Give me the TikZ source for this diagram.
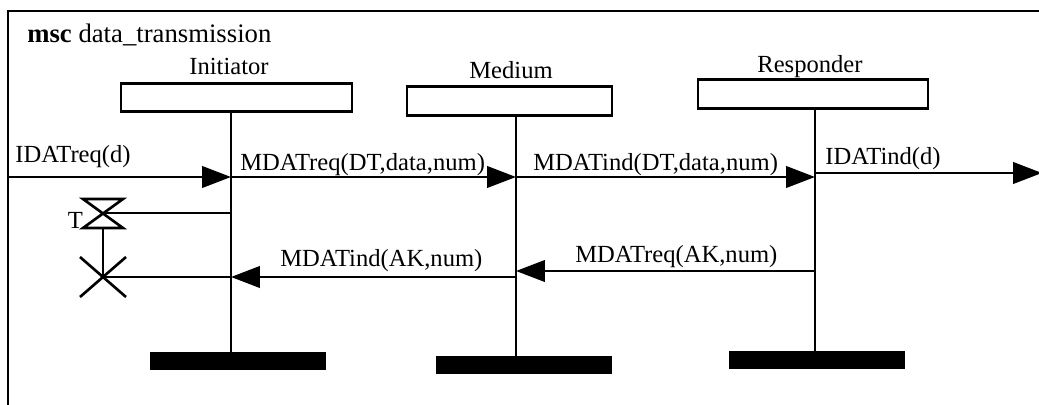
\documentclass[tikz,border=0pt]{standalone}
\usepackage{fontspec}
\setmainfont{Liberation Serif}
\usetikzlibrary{arrows.meta}
\newcommand{\msgfont}{\fontsize{14}{16}\selectfont}
\newcommand{\ttlfont}{\fontsize{15.2}{18}\selectfont}
\tikzset{
  frame/.style  ={line width=1.7pt},
  head/.style   ={draw, line width=1.5pt, inner sep=0pt, minimum height=5.7mm},
  foot/.style   ={fill=black, inner sep=0pt, minimum height=3.6mm,
                  minimum width=35.2mm},
  iname/.style  ={font=\msgfont, inner sep=0pt, anchor=base},
  life/.style   ={line width=1.5pt},
  msg/.style    ={line width=1.5pt, -{Triangle[length=5.8mm, width=4.3mm]}},
  mlbl/.style   ={font=\msgfont, inner sep=0pt, anchor=base west},
  timer/.style  ={line width=1.5pt},
}

\begin{document}
\begin{tikzpicture}[x=0.02cm, y=-0.02cm]
\useasboundingbox (0,0) rectangle (1039,405);

% frame and title
\draw[frame] (8,410) -- (8,11) -- (1045,11);
\node[font=\ttlfont, inner sep=0pt, anchor=base west] (title) at (27,43)
  {\textbf{msc} data\_transmission};

% instances
\node[head, minimum width=46.2mm] (ini) at (236.5,97.5) {};
\node[head, minimum width=41mm]   (med) at (509.5,101) {};
\node[head, minimum width=46mm]   (rsp) at (813,94) {};
\node[iname] (ini-name) at (229,75) {Initiator};
\node[iname] (med-name) at (511,79) {Medium};
\node[iname] (rsp-name) at (810,73) {Responder};

\node[foot] (ini-end) at (238,361) {};
\node[foot] (med-end) at (524,365) {};
\node[foot] (rsp-end) at (817,360) {};

\foreach \n/\x in {ini/231, med/516, rsp/815} {
  \coordinate (\n-top) at (\x,0 |- \n.south);
  \coordinate (\n-bot) at (\x,0 |- \n-end.north);
  \draw[life] (\n-top) -- (\n-bot);
}

% messages
\coordinate (env-in)  at (8,177);
\coordinate (env-out) at (1042,173);
\draw[msg] (env-in) -- (ini-top |- env-in);
\draw[msg] (ini-top |- 0,177) -- (med-top |- 0,177);
\draw[msg] (med-top |- 0,177) -- (rsp-top |- 0,177);
\draw[msg] (rsp-top |- env-out) -- (env-out);
\draw[msg] (rsp-top |- 0,271) -- (med-top |- 0,271);

\node[mlbl] (m1) at (15,163)  {IDATreq(d)};
\node[mlbl] (m2) at (240,171) {MDATreq(DT,data,num)};
\node[mlbl] (m3) at (533,171) {MDATind(DT,data,num)};
\node[mlbl] (m4) at (825,165) {IDATind(d)};
\node[mlbl] (m5) at (575,263) {MDATreq(AK,num)};
\node[mlbl] (m6) at (280,267) {MDATind(AK,num)};

% timer set and timeout
\coordinate (tset) at (103,213);
\coordinate (tout) at (103,277);
\draw[timer] (83,199) -- (123,199) -- (83,228) -- (123,228) -- cycle;
\node[font=\msgfont, inner sep=1pt, anchor=east] (tname) at (85,220) {T};
\draw[timer] (tset) -- (ini-top |- tset);
\draw[timer] (103,228) -- (tout);
\draw[timer] (80,257) -- (126,297) (80,297) -- (126,257);
\draw[msg] (med-top |- tout) -- (ini-top |- tout);
\draw[life] (ini-top |- tout) -- (tout);

\end{tikzpicture}
\end{document}
